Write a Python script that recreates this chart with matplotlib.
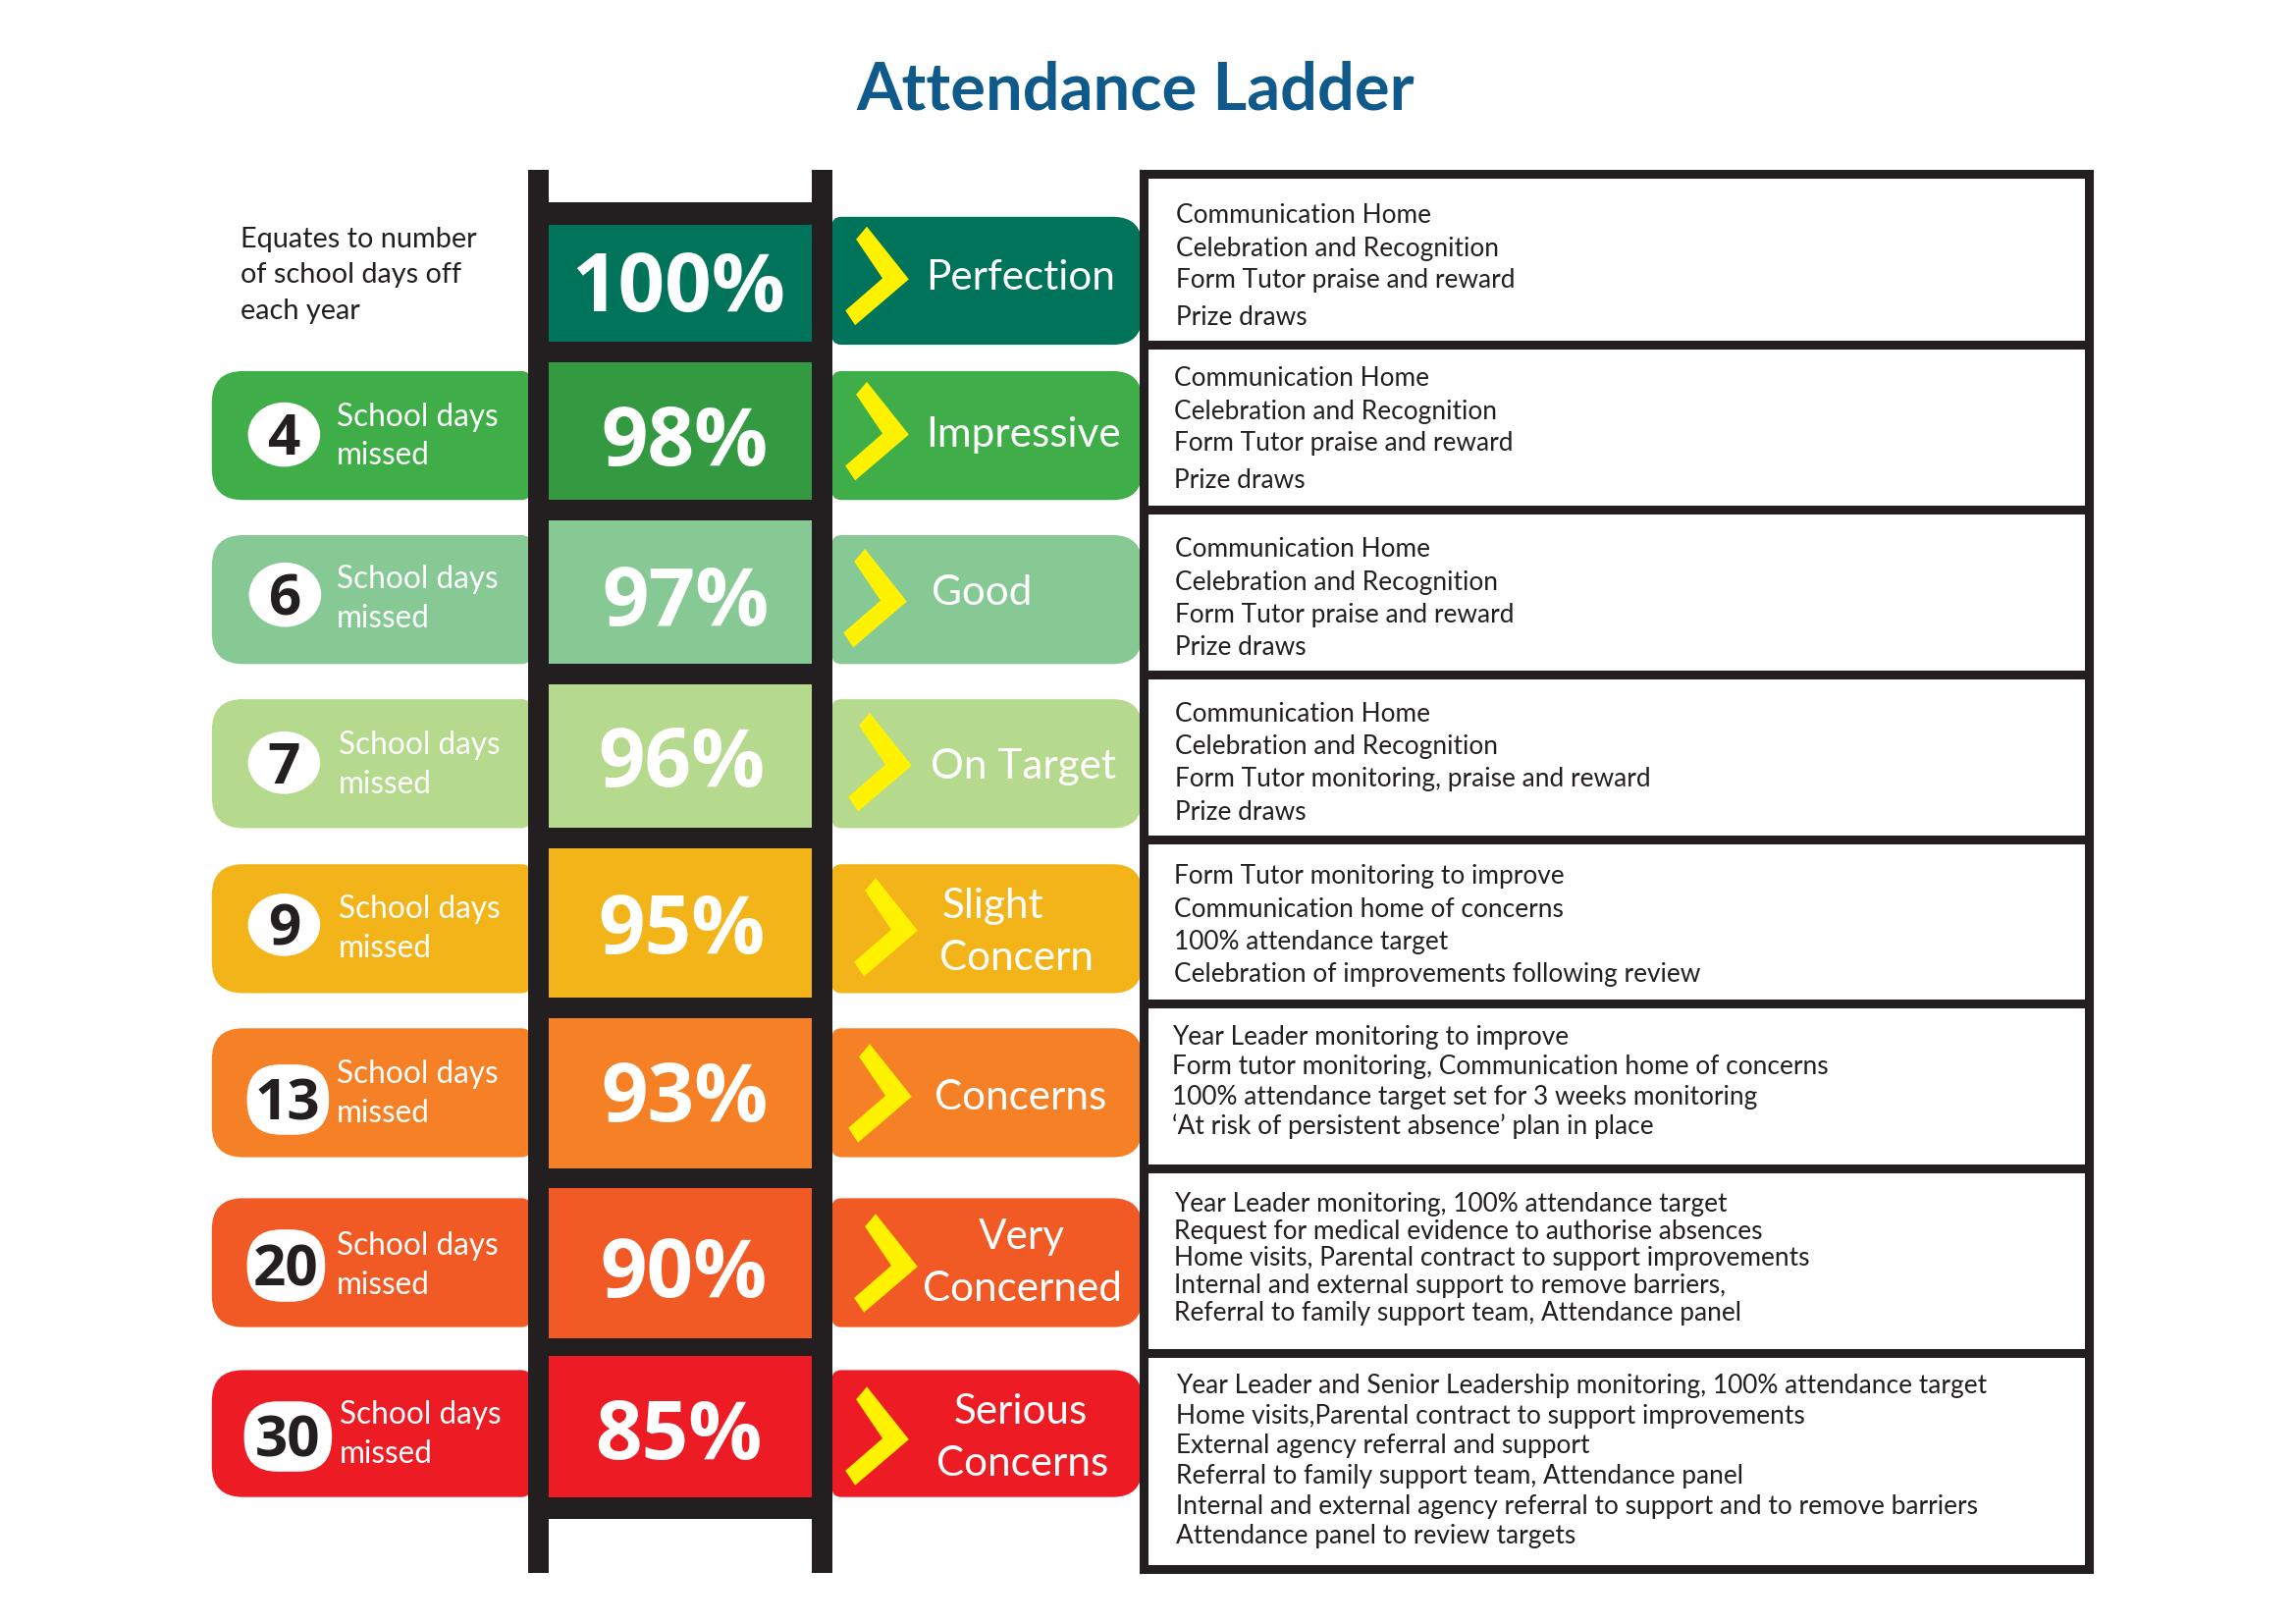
import matplotlib
matplotlib.use("Agg")
import matplotlib.pyplot as plt
from matplotlib.patches import Rectangle, PathPatch, Polygon, FancyBboxPatch, Ellipse
from matplotlib.path import Path

plt.rcParams['font.family'] = ['Lato', 'DejaVu Sans']

# Dane drabiny
percents = ['100%', '98%', '97%', '96%', '95%', '93%', '90%', '85%']
days = ['', '4', '6', '7', '9', '13', '20', '30']
labels = [['Perfection'], ['Impressive'], ['Good'], ['On Target'], ['Slight', 'Concern'],
          ['Concerns'], ['Very', 'Concerned'], ['Serious', 'Concerns']]
pill_colors = ['#00745A', '#3FAE49', '#86C994', '#B5D98D', '#F3B41A', '#F58025', '#F15A24', '#ED1C24']
cell_colors = ['#00745A', '#339A41', '#86C994', '#B5D98D', '#F3B41A', '#F58025', '#F15A24', '#ED1C24']
actions = [
    ['Communication Home', 'Celebration and Recognition', 'Form Tutor praise and reward', 'Prize draws'],
    ['Communication Home', 'Celebration and Recognition', 'Form Tutor praise and reward', 'Prize draws'],
    ['Communication Home', 'Celebration and Recognition', 'Form Tutor praise and reward', 'Prize draws'],
    ['Communication Home', 'Celebration and Recognition', 'Form Tutor monitoring, praise and reward', 'Prize draws'],
    ['Form Tutor monitoring to improve', 'Communication home of concerns', '100% attendance target',
     'Celebration of improvements following review'],
    ['Year Leader monitoring to improve', 'Form tutor monitoring, Communication home of concerns',
     '100% attendance target set for 3 weeks monitoring', '‘At risk of persistent absence’ plan in place'],
    ['Year Leader monitoring, 100% attendance target', 'Request for medical evidence to authorise absences',
     'Home visits, Parental contract to support improvements', 'Internal and external support to remove barriers,',
     'Referral to family support team, Attendance panel'],
    ['Year Leader and Senior Leadership monitoring, 100% attendance target',
     'Home visits,Parental contract to support improvements', 'External agency referral and support',
     'Referral to family support team, Attendance panel',
     'Internal and external agency referral to support and to remove barriers',
     'Attendance panel to review targets'],
]

# Układ (współrzędne podglądu x 1.5)
BLACK = '#231F20'
YELLOW = '#FFF200'
cell_tops = [230, 371, 533, 701, 869, 1043, 1217, 1389]
cell_bottoms = [350, 512, 680, 848, 1022, 1196, 1370, 1533]
pill_tops = [222, 380, 548, 716, 885, 1053, 1227, 1403]
pill_bottoms = [353, 512, 680, 848, 1017, 1185, 1359, 1533]
chevron_tips = [(931, 286), (931, 445), (929, 616), (934, 784), (940, 953), (934, 1123), (940, 1297), (931, 1474)]
label_x = [[1045], [1048], [1006], [1048], [1017, 1041], [1045], [1047, 1047], [1046, 1047]]
label_base = [[297], [457], [619], [797], [940, 993], [1136], [1279, 1332], [1458, 1511]]
pct_x = [695, 701, 702, 698, 698, 701, 700, 695]
pct_base = [319, 477, 640, 805, 976, 1148, 1328, 1494]
blob_centres = [None, (291, 445), (292, 609), (291, 781), (291, 947), (295, 1126), (293, 1296), (295, 1471)]
blob_sizes = [None, (74, 66), (74, 66), (74, 64), (74, 64), (84, 72), (80, 74), (90, 72)]
sd_x = [0, 345, 345, 347, 347, 345, 345, 348]
sd_base = [0, 436, 602, 772, 940, 1109, 1285, 1458]
box_lines = [174, 353, 522, 691, 860, 1028, 1196, 1386, 1609]
text_x = [1205, 1203, 1204, 1204, 1203, 1201, 1203, 1205]
text_y = [[219, 253, 286, 324], [386, 420, 452, 491], [561, 595, 628, 662], [730, 763, 796, 831],
          [896, 930, 963, 996], [1061, 1091, 1122, 1152], [1232, 1260, 1287, 1315, 1343],
          [1418, 1449, 1479, 1510, 1541, 1572]]


def pill(ax, x0, y0, x1, y1, r_left, r_right, color):
    verts = [(x0 + r_left, y0), (x1 - r_right, y0), (x1, y0), (x1, y0 + r_right),
             (x1, y1 - r_right), (x1, y1), (x1 - r_right, y1),
             (x0 + r_left, y1), (x0, y1), (x0, y1 - r_left),
             (x0, y0 + r_left), (x0, y0), (x0 + r_left, y0), (x0 + r_left, y0)]
    codes = [Path.MOVETO, Path.LINETO, Path.CURVE3, Path.CURVE3,
             Path.LINETO, Path.CURVE3, Path.CURVE3,
             Path.LINETO, Path.CURVE3, Path.CURVE3,
             Path.LINETO, Path.CURVE3, Path.CURVE3, Path.CLOSEPOLY]
    ax.add_patch(PathPatch(Path(verts, codes), facecolor=color, edgecolor='none', zorder=1))


fig = plt.figure(figsize=(23.39, 16.54), dpi=100)
ax = fig.add_axes([0, 0, 1, 1])
ax.set_xlim(0, 2352)
ax.set_ylim(1663, 0)
ax.axis('off')

ax.text(1163, 112, 'Attendance Ladder', color='#0F5A8A', fontsize=48.2, fontweight='bold', ha='center', va='baseline')

# Szczeble i szyny drabiny
ax.add_patch(Rectangle((541, 207), 292, 1348, facecolor=BLACK, edgecolor='none', zorder=2))
for x0, x1 in [(541, 562), (832, 853)]:
    ax.add_patch(Rectangle((x0, 174), x1 - x0, 1437, facecolor=BLACK, edgecolor='none', zorder=2))

for i, pct in enumerate(percents):
    ax.add_patch(Rectangle((562, cell_tops[i]), 270, cell_bottoms[i] - cell_tops[i],
                           facecolor=cell_colors[i], edgecolor='none', zorder=3))
    ax.text(pct_x[i], pct_base[i], pct, color='white', fontsize=60, fontweight='bold', family='Open Sans',
            ha='center', va='baseline', zorder=4)

    # Prawa etykieta z szewronem
    pill(ax, 852, pill_tops[i], 1170, pill_bottoms[i], 10, 30, pill_colors[i])
    tx, ty = chevron_tips[i]
    ax.add_patch(Polygon([(tx - 43, ty - 54), (tx, ty), (tx - 55, ty + 47), (tx - 65, ty + 32),
                          (tx - 27, ty - 1), (tx - 54, ty - 41)],
                         facecolor=YELLOW, edgecolor='none', zorder=3))
    for line, x, base in zip(labels[i], label_x[i], label_base[i]):
        ax.text(x, base, line, color='white', fontsize=30.4, ha='center', va='baseline', zorder=4)

    # Lewa etykieta z liczbą dni
    if days[i]:
        pill(ax, 217, pill_tops[i], 544, pill_bottoms[i], 32, 10, pill_colors[i])
        cx, cy = blob_centres[i]
        w, h = blob_sizes[i]
        if len(days[i]) == 1:
            ax.add_patch(Ellipse((cx, cy), w, h, facecolor='white', edgecolor='none', zorder=3))
        else:
            ax.add_patch(FancyBboxPatch((cx - w / 2, cy - h / 2), w, h,
                                        boxstyle='round,pad=0,rounding_size=%.1f' % (min(w, h) * 0.48),
                                        facecolor='white', edgecolor='none', zorder=3))
        ax.text(cx, cy + 21, days[i], color=BLACK, fontsize=42, fontweight='bold', family='Open Sans',
                ha='center', va='baseline', zorder=4)
        ax.text(sd_x[i], sd_base[i], 'School days', color='white', fontsize=22.7, ha='left', va='baseline', zorder=4)
        ax.text(sd_x[i], sd_base[i] + 40, 'missed', color='white', fontsize=22.7, ha='left', va='baseline', zorder=4)

    # Ramka z działaniami
    for line, y in zip(actions[i], text_y[i]):
        ax.text(text_x[i], y + 9, line, color=BLACK, fontsize=18.9, ha='left', va='baseline', zorder=4)

for y, text in zip([244, 281, 318], ['Equates to number', 'of school days off', 'each year']):
    ax.text(246, y + 9, text, color=BLACK, fontsize=20.8, ha='left', va='baseline')

# Ramka prawa
ax.add_patch(Rectangle((1171, 178), 969, 1429, facecolor='none', edgecolor=BLACK, linewidth=6.5, zorder=5))
for y in box_lines[1:-1]:
    ax.plot([1167, 2144], [y, y], color=BLACK, linewidth=6.5, solid_capstyle='butt', zorder=5)

fig.savefig('out.png', dpi=100)
